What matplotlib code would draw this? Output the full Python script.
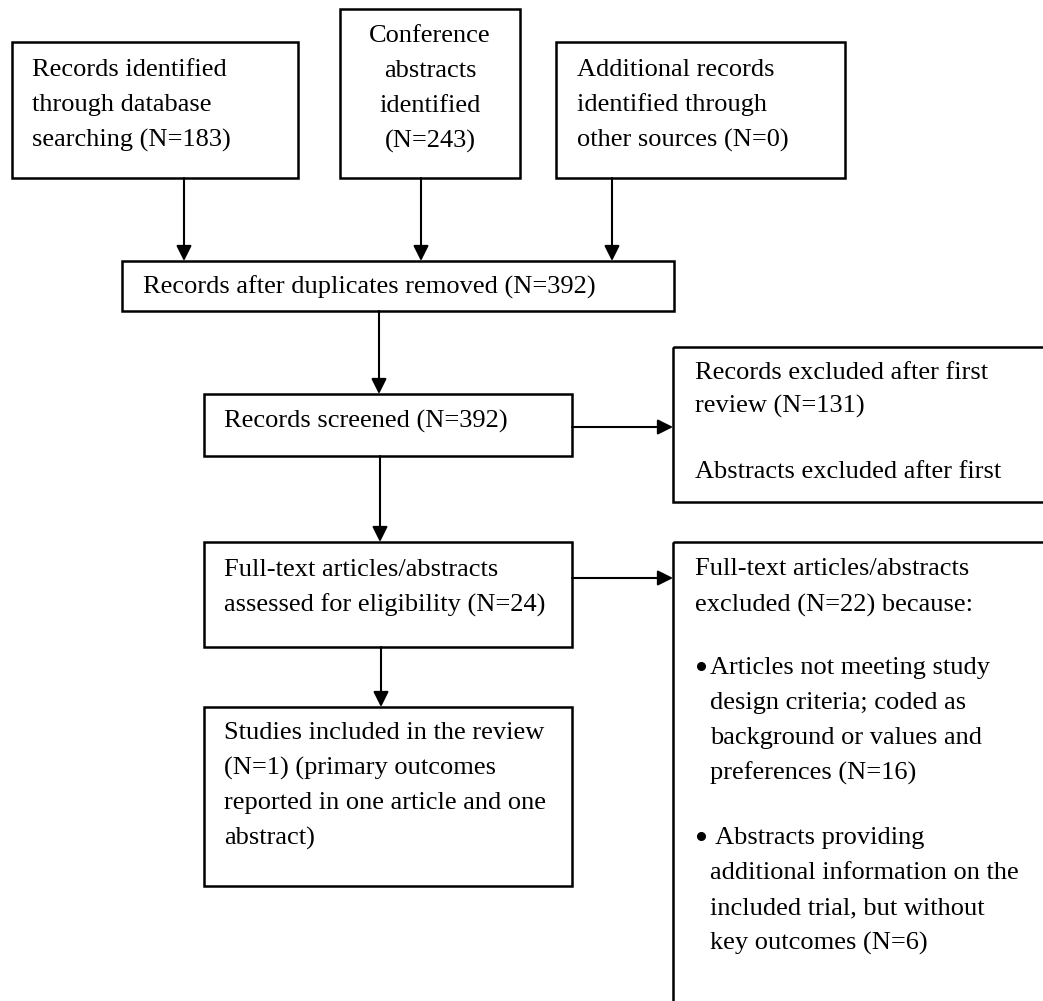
import matplotlib
matplotlib.use("Agg")
import matplotlib.pyplot as plt
from matplotlib.patches import Rectangle

plt.rcParams['font.family'] = ['Liberation Serif', 'DejaVu Serif']

# ---- text content ----
box1_lines = ["Records identified", "through database", "searching (N=183)"]
box2_lines = ["Conference", "abstracts", "identified", "(N=243)"]
box3_lines = ["Additional records", "identified through", "other sources (N=0)"]
dup_lines = ["Records after duplicates removed (N=392)"]
screen_lines = ["Records screened (N=392)"]
excl1_lines = ["Records excluded after first", "review (N=131)", "", "Abstracts excluded after first"]
full_lines = ["Full-text articles/abstracts", "assessed for eligibility (N=24)"]
excl2_head = ["Full-text articles/abstracts", "excluded (N=22) because:"]
bullet1_lines = ["Articles not meeting study", "design criteria; coded as",
                 "background or values and", "preferences (N=16)"]
bullet2_lines = [" Abstracts providing", "additional information on the",
                 "included trial, but without", "key outcomes (N=6)"]
incl_lines = ["Studies included in the review", "(N=1) (primary outcomes",
              "reported in one article and one", "abstract)"]

W, H = 1043, 1001
fig = plt.figure(figsize=(W / 100, H / 100), dpi=100)
ax = fig.add_axes([0, 0, 1, 1])
ax.set_xlim(0, W)
ax.set_ylim(H, 0)
ax.axis('off')

FS = 19
LW = 1.8
LS = 35


def box(x0, y0, x1, y1):
    ax.add_patch(Rectangle((x0, y0), x1 - x0, y1 - y0, fill=False,
                           edgecolor='black', linewidth=LW, clip_on=True))


def lines(x, y0, items, ha='left', step=LS):
    for i, t in enumerate(items):
        ax.text(x, y0 + i * step, t, fontsize=FS, ha=ha, va='center', color='black')


def arrow(x0, y0, x1, y1):
    ax.annotate('', xy=(x1, y1), xytext=(x0, y0),
                arrowprops=dict(arrowstyle='-|>,head_length=0.4,head_width=0.2',
                                mutation_scale=23, lw=1.5, color='black',
                                shrinkA=0, shrinkB=0))


def bullet(x, y):
    ax.plot([x], [y], marker='o', markersize=5.5, color='black', linestyle='none')


# top row
box(12, 42, 298, 178)
lines(32, 70, box1_lines)
box(340, 9, 520, 178)
lines(430, 36, box2_lines, ha='center')
box(556, 42, 845, 178)
lines(577, 70, box3_lines)

# duplicates removed
box(122, 261, 674, 311)
lines(143, 287, dup_lines)
arrow(184, 178, 184, 261)
arrow(421, 178, 421, 261)
arrow(612, 178, 612, 261)

# screened
arrow(379, 311, 379, 394)
box(204, 394, 572, 456)
lines(224, 421, screen_lines)

# excluded 1 (extends past right edge)
box(673, 347, 1080, 502)
lines(695, 373, excl1_lines, step=33)
arrow(572, 427, 673, 427)

# full text
arrow(380, 456, 380, 542)
box(204, 542, 572, 647)
lines(224, 570, full_lines)

# excluded 2 (extends past right and bottom edges)
box(673, 542, 1080, 1040)
lines(695, 569, excl2_head, step=36)
bullet(701, 666)
lines(710, 668, bullet1_lines)
bullet(701, 836)
lines(710, 838, bullet2_lines)
arrow(572, 578, 673, 578)

# included
arrow(381, 647, 381, 707)
box(204, 707, 572, 886)
lines(224, 733, incl_lines)

fig.savefig("out.png", dpi=100, facecolor='white')
